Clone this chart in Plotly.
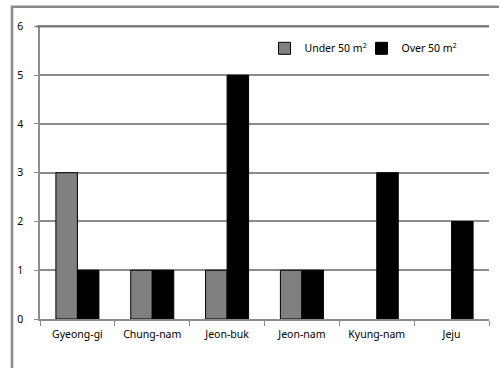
import plotly.graph_objects as go

regions = ["Gyeong-gi", "Chung-nam", "Jeon-buk", "Jeon-nam", "Kyung-nam", "Jeju"]
under_50 = [3, 1, 1, 1, None, None]
over_50 = [1, 1, 5, 1, 3, 2]
y_ticks = [0, 1, 2, 3, 4, 5, 6]

FONT = "Noto Sans"
GRID = "#8c8c8c"

fig = go.Figure()
fig.add_trace(go.Bar(
    x=regions, y=under_50, name="Under 50 m<sup>2</sup>",
    marker=dict(color="#808080", line=dict(color="#000000", width=1)),
))
fig.add_trace(go.Bar(
    x=regions, y=over_50, name="Over 50 m<sup>2</sup>",
    marker=dict(color="#000000", line=dict(color="#000000", width=1)),
))

# outer chart frame (runs off the right and bottom edges)
fig.add_shape(type="rect", xref="paper", yref="paper",
              x0=-0.0624, x1=1.04, y0=-0.2, y1=1.062,
              line=dict(color="#8a8a8a", width=2.5), layer="below")

# top gridline at the axis maximum
fig.add_shape(type="line", xref="paper", yref="y",
              x0=-0.009, x1=1, y0=max(y_ticks), y1=max(y_ticks),
              line=dict(color="#7a7a7a", width=2), layer="above")

fig.update_layout(
    width=499, height=368,
    margin=dict(l=40, r=10, t=25, b=49),
    paper_bgcolor="white", plot_bgcolor="white",
    barmode="group", bargap=0.425, bargroupgap=0,
    font=dict(family=FONT, size=10.5, color="#000000"),
    showlegend=True,
    legend=dict(orientation="h", x=0.5, y=0.97, xanchor="left", yanchor="top",
                bgcolor="rgba(0,0,0,0)", font=dict(size=10.5),
                itemwidth=30, tracegroupgap=0,
                entrywidth=52, entrywidthmode="pixels"),
    xaxis=dict(
        showline=True, linecolor=GRID, linewidth=1.5,
        ticks="outside", tickson="boundaries", ticklen=5, tickcolor=GRID,
        showgrid=False, tickfont=dict(size=10.5), ticklabelstandoff=5,
    ),
    yaxis=dict(
        range=[0, 6.03], tickvals=y_ticks,
        showline=True, linecolor=GRID, linewidth=1.5,
        ticks="outside", ticklen=4, tickcolor=GRID,
        showgrid=True, gridcolor=GRID, gridwidth=1.5,
        zeroline=False, tickfont=dict(size=10.5), ticklabelstandoff=9,
    ),
)

fig.write_html("out.html")
